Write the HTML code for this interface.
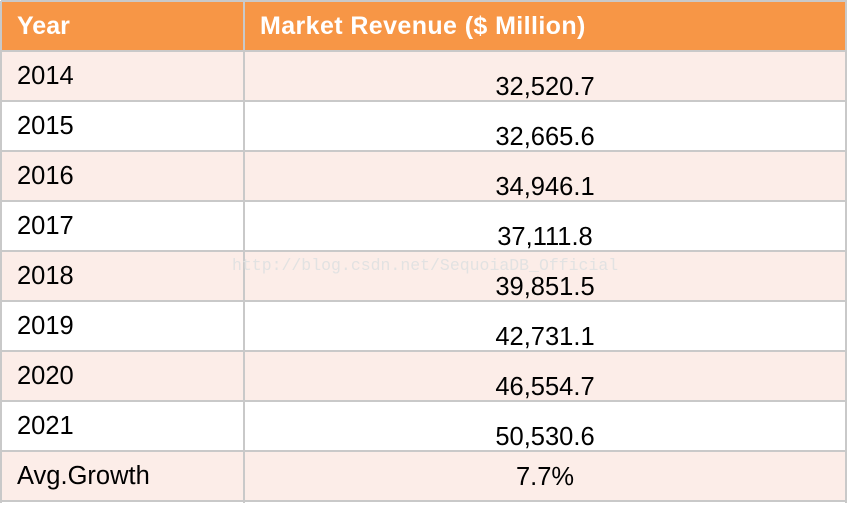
<!DOCTYPE html><html><head><style>
body{margin:0;width:848px;height:512px;background:#fff;font-family:"Liberation Sans",sans-serif;position:relative;overflow:hidden}
.r{position:absolute;left:1px;width:845px;height:50px;box-sizing:border-box}
.h{position:absolute;height:2px;left:1px;width:846px;background:#c9c9c9}
.v{position:absolute;width:2px;background:#c9c9c9;top:1px;height:502px}
.t{position:absolute;font-size:25.5px;color:#000;line-height:30px}
.l{left:17px}.c{left:246px;width:598px;text-align:center}
</style></head><body>
<div class="r" style="top:1px;background:#f79646"></div>
<div class="r" style="top:51px;background:#fcede8"></div>
<div class="r" style="top:151px;background:#fcede8"></div>
<div class="r" style="top:251px;background:#fcede8"></div>
<div class="r" style="top:351px;background:#fcede8"></div>
<div class="r" style="top:451px;background:#fcede8"></div>
<div class="h" style="top:0"></div><div class="h" style="top:50px"></div><div class="h" style="top:100px"></div><div class="h" style="top:150px"></div><div class="h" style="top:200px"></div><div class="h" style="top:250px"></div><div class="h" style="top:300px"></div><div class="h" style="top:350px"></div><div class="h" style="top:400px"></div><div class="h" style="top:450px"></div><div class="h" style="top:500px"></div>
<div class="v" style="left:0"></div><div class="v" style="left:243px"></div><div class="v" style="left:845px"></div>
<div class="t l" style="top:11px;color:#fff;font-weight:bold;font-size:25px">Year</div>
<div class="t" style="left:260px;top:11px;color:#fff;font-weight:bold;font-size:25px;letter-spacing:0.4px">Market Revenue ($ Million)</div>
<div class="t l" style="top:61px">2014</div><div class="t c" style="top:72px">32,520.7</div>
<div class="t l" style="top:111px">2015</div><div class="t c" style="top:122px">32,665.6</div>
<div class="t l" style="top:161px">2016</div><div class="t c" style="top:172px">34,946.1</div>
<div class="t l" style="top:211px">2017</div><div class="t c" style="top:222px">37,111.8</div>
<div class="t l" style="top:261px">2018</div><div class="t c" style="top:272px">39,851.5</div>
<div class="t l" style="top:311px">2019</div><div class="t c" style="top:322px">42,731.1</div>
<div class="t l" style="top:361px">2020</div><div class="t c" style="top:372px">46,554.7</div>
<div class="t l" style="top:411px">2021</div><div class="t c" style="top:422px">50,530.6</div>
<div class="t l" style="top:461px">Avg.Growth</div><div class="t c" style="top:462px">7.7%</div>
<div style="position:absolute;left:232px;top:256px;font-family:'Liberation Mono',monospace;font-size:16.5px;color:#e2e2e2">http://blog.csdn.net/SequoiaDB_Official</div>
</body></html>
